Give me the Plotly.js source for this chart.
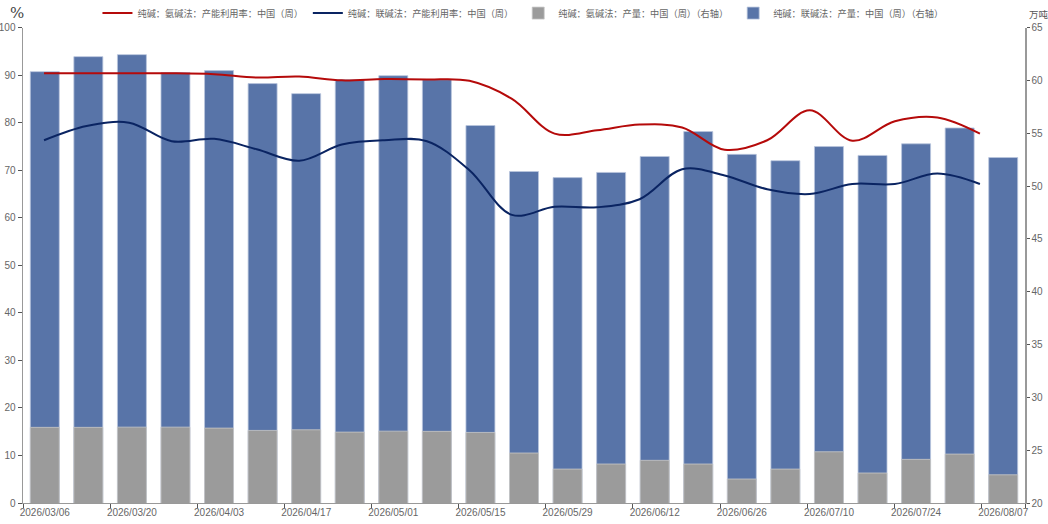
<!DOCTYPE html>
<html>
<head>
<meta charset="utf-8">
<script src="https://cdn.plot.ly/plotly-3.0.1.min.js"></script>
<style>html,body{margin:0;padding:0;background:#fff;}#chart{width:1048px;height:524px;}</style>
</head>
<body>
<div id="chart"></div>
<script>
const dates = ["2026/03/06","2026/03/13","2026/03/20","2026/03/27","2026/04/03","2026/04/10","2026/04/17","2026/04/24","2026/05/01","2026/05/08","2026/05/15","2026/05/22","2026/05/29","2026/06/05","2026/06/12","2026/06/19","2026/06/26","2026/07/03","2026/07/10","2026/07/17","2026/07/24","2026/07/31","2026/08/07"];
// 产能利用率 (%), left axis
const ammoniaUtil = [90.4,90.4,90.4,90.4,90.2,89.5,89.7,88.9,89.2,89.1,88.8,85.0,77.7,78.4,79.6,79.0,74.3,76.3,82.6,76.2,80.3,81.1,77.7];
const jointUtil   = [76.3,79.3,80.0,76.1,76.6,74.4,72.0,75.4,76.3,76.1,70.0,60.6,62.3,62.2,63.9,70.2,68.9,66.0,65.0,67.1,67.1,69.3,67.1];
// 产量 (万吨), right axis
const ammoniaOutput = [27.16,27.16,27.18,27.18,27.09,26.87,26.93,26.71,26.80,26.78,26.68,24.73,23.21,23.69,24.04,23.69,22.27,23.21,24.85,22.84,24.13,24.63,22.67];
const jointOutput   = [60.83,62.25,62.44,60.74,60.93,59.70,58.75,60.07,60.45,60.07,55.73,51.38,50.80,51.29,52.80,55.16,53.00,52.40,53.74,52.90,54.00,55.50,52.70];
const lineIdx = dates.map((d,i)=>i);
const tickDates = dates.filter((d,i)=>i%2===0);

const names = ["纯碱：氨碱法：产能利用率：中国（周）","纯碱：联碱法：产能利用率：中国（周）","纯碱：氨碱法：产量：中国（周）（右轴）","纯碱：联碱法：产量：中国（周）（右轴）"];

const traces = [
  {type:'bar', x:dates, y:jointOutput, name:names[3], legendrank:4, xaxis:'x', yaxis:'y',
   marker:{color:'#5874a8', line:{color:'#b9c5dd', width:0.8}}, hoverinfo:'skip'},
  {type:'bar', x:dates, y:ammoniaOutput, name:names[2], legendrank:3, xaxis:'x', yaxis:'y',
   marker:{color:'#9b9b9b', line:{color:'#c8c8c8', width:0.8}}, hoverinfo:'skip'},
  {type:'scatter', mode:'lines', x:lineIdx, y:ammoniaUtil, name:names[0], legendrank:1, xaxis:'x2', yaxis:'y2',
   line:{color:'#b50a0a', width:2, shape:'spline', smoothing:1}},
  {type:'scatter', mode:'lines', x:lineIdx, y:jointUtil, name:names[1], legendrank:2, xaxis:'x2', yaxis:'y2',
   line:{color:'#0a2462', width:2, shape:'spline', smoothing:1}}
];

const tickFont = {family:'Liberation Sans, Arial', size:10, color:'#666'};
const layout = {
  width:1048, height:524,
  margin:{l:23, r:23, t:26, b:21, pad:0},
  paper_bgcolor:'#fff', plot_bgcolor:'#fff',
  barmode:'overlay', bargap:0.335,
  showlegend:true,
  legend:{orientation:'h', xref:'container', yref:'container', x:0.093, y:0.975, xanchor:'left', yanchor:'middle',
          font:{family:'Noto Sans CJK SC', size:9.2, color:'#666'}, itemwidth:30, tracegroupgap:0, bgcolor:'rgba(0,0,0,0)'},
  xaxis:{type:'category', showgrid:false, zeroline:false, showline:true, linecolor:'#999', linewidth:1,
         ticks:'outside', ticklen:4, tickcolor:'#555', tickson:'boundaries', tickmode:'array',
         tickvals:tickDates, ticktext:tickDates, tickangle:0, automargin:false,
         tickfont:tickFont, range:[-0.5,22.5], fixedrange:true},
  xaxis2:{overlaying:'x', anchor:'y2', range:[-0.4947,23.06], visible:false, showgrid:false, zeroline:false},
  yaxis:{side:'right', range:[20,65], dtick:5, showgrid:false, zeroline:false, showline:true, linecolor:'#999', linewidth:1.5,
         ticks:'outside', ticklen:3, tickcolor:'#555', tickfont:tickFont, automargin:false},
  yaxis2:{side:'left', overlaying:'y', anchor:'x', range:[0,100], dtick:10, showgrid:false, zeroline:false, showline:true,
          linecolor:'#999', linewidth:1.5, ticks:'outside', ticklen:4, tickcolor:'#555', tickfont:tickFont, automargin:false},
  annotations:[
    {text:'%', xref:'paper', yref:'paper', x:-0.006, y:1.0, xanchor:'center', yanchor:'bottom', yshift:4, showarrow:false,
     font:{family:'DejaVu Serif', size:15, color:'#444'}},
    {text:'万吨', xref:'paper', yref:'paper', x:1.0, y:1.0, xanchor:'left', yanchor:'bottom', yshift:5, xshift:2, showarrow:false,
     font:{family:'Noto Sans CJK SC', size:9.5, color:'#555'}}
  ]
};
Plotly.newPlot('chart', traces, layout, {displayModeBar:false, staticPlot:true});
</script>
</body>
</html>
